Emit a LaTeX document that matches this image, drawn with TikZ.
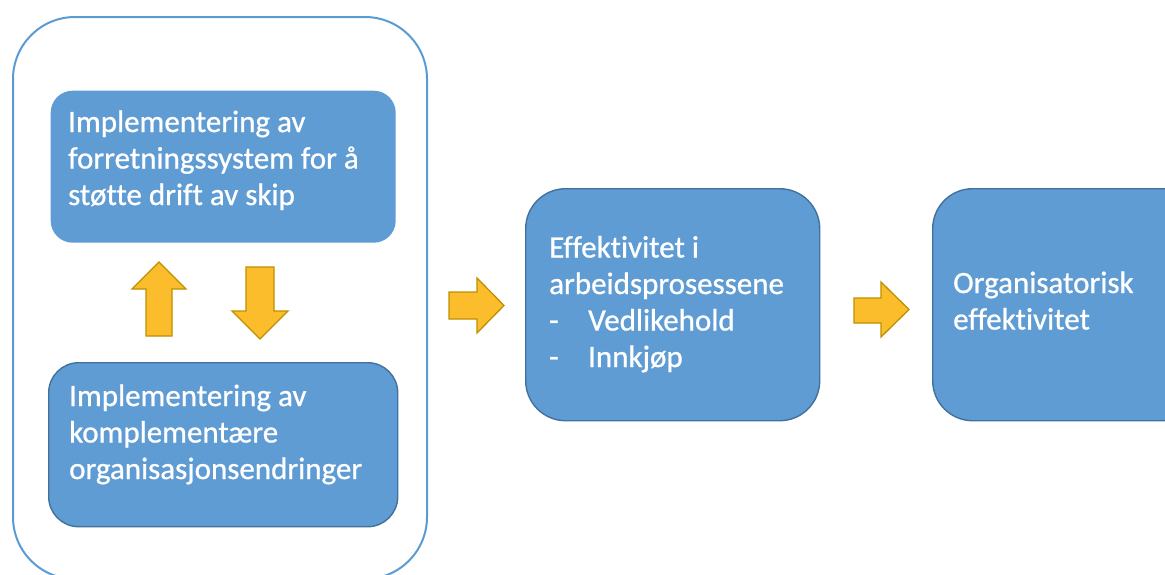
\documentclass[tikz,border=0pt]{standalone}
\usepackage{fontspec}
\setmainfont{Carlito}[Ligatures={NoCommon,NoContextual}]
\newfontfamily\boxfont{Carlito}[Ligatures={NoCommon,NoContextual}, RawFeature={-liga;-clig}, FakeBold=0.8]
\definecolor{boxblue}{HTML}{5F9CD4}
\definecolor{boxedge}{HTML}{41719C}
\definecolor{framecol}{HTML}{5B9BD5}
\definecolor{arrowfill}{HTML}{FBBD2C}
\definecolor{arrowedge}{HTML}{BF9000}
\begin{document}
\begin{tikzpicture}[x=1pt,y=-1pt,
  frame/.style={draw=framecol, line width=2pt, fill=white, rectangle, rounded corners=62pt, anchor=north west, inner sep=0pt},
  bluebox/.style={fill=boxblue, draw=boxedge, line width=1.4pt, rectangle, anchor=north west, inner sep=0pt},
  txt/.style={text=white, align=left, inner sep=0pt, anchor=base west, font=\boxfont\fontsize{31}{36.5}\selectfont},
  blockarrow/.style={fill=arrowfill, draw=arrowedge, line width=1.3pt, line join=miter}]
\path[use as bounding box] (0,0) rectangle (1165,574);
\clip (0,0) rectangle (1165,574);

% outer frame around the two implementation boxes
\node[frame, minimum width=414pt, minimum height=562pt] (outer) at (12,16) {};

% boxes
\node[bluebox, draw=none, rounded corners=22pt, minimum width=345pt, minimum height=152pt] (b1) at (50,90) {};
\node[bluebox, rounded corners=30pt, minimum width=349pt, minimum height=164pt] (b2) at (48,362) {};
\node[bluebox, rounded corners=40pt, minimum width=294pt, minimum height=232pt] (b3) at (525,188) {};
\node[bluebox, rounded corners=40pt, minimum width=270pt, minimum height=232pt] (b4) at (932,188) {};

% box texts (placed by the baseline of their last line)
\node[txt] (t1) at (68,205) {Implementering av\\forretningssystem for å\\støtte drift av skip};
\node[txt] (t2) at (69,479) {Implementering av\\komplementære\\organisasjonsendringer};
\node[txt] (t3) at (549,367) {Effektivitet i\\arbeidsprosessene\\\makebox[39pt][l]{-}Vedlikehold\\\makebox[39pt][l]{-}Innkjøp};
\node[txt] (t4) at (953,329.5) {Organisatorisk\\effektivitet};

% block arrows
\draw[blockarrow] (159,262) -- (186,289) -- (172,289) -- (172,336) -- (146,336) -- (146,289) -- (132,289) -- cycle;
\draw[blockarrow] (246,267) -- (274,267) -- (274,311) -- (288,311) -- (260,339) -- (232,311) -- (246,311) -- cycle;
\draw[blockarrow] (449,292) -- (477,292) -- (477,278) -- (504,305.5) -- (477,333) -- (477,319) -- (449,319) -- cycle;
\draw[blockarrow] (854,298) -- (881,298) -- (881,282) -- (909,309.5) -- (881,337) -- (881,323) -- (854,323) -- cycle;
\end{tikzpicture}
\end{document}
